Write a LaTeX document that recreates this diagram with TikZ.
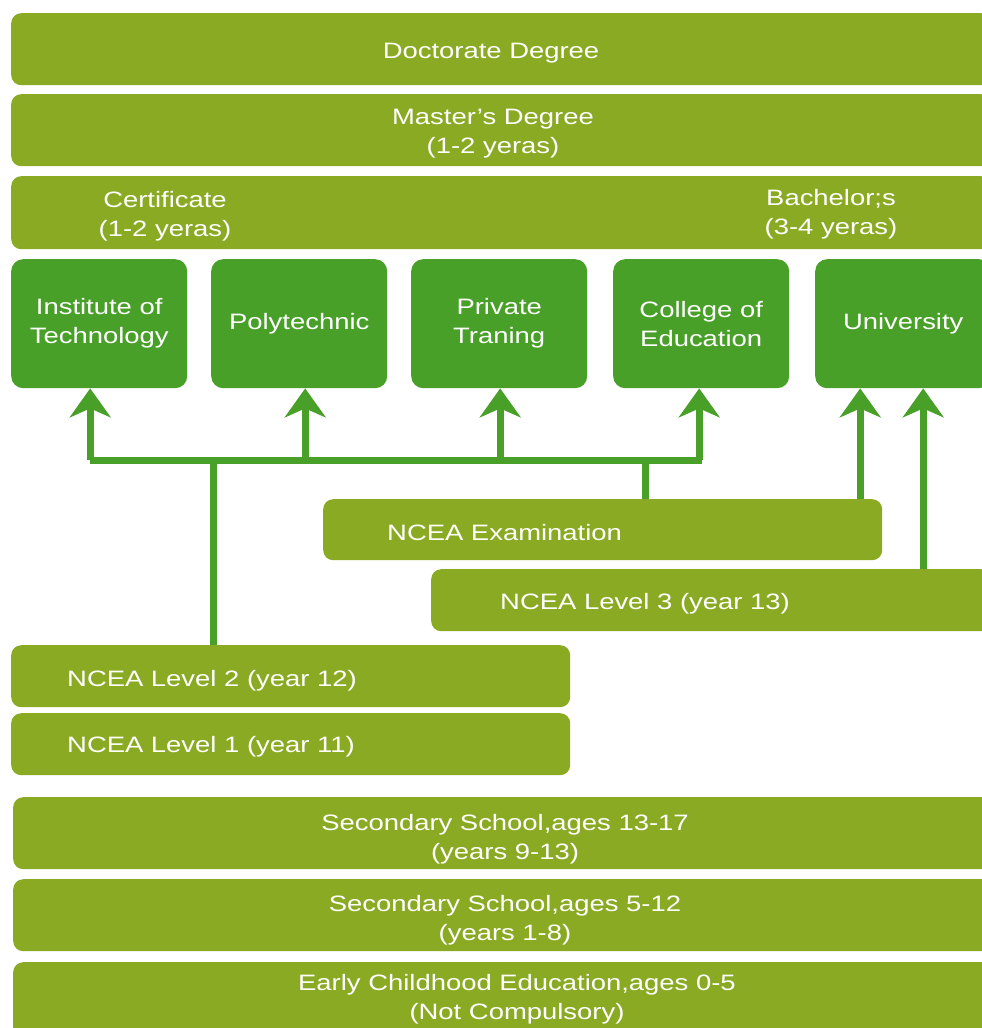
\documentclass[tikz,border=0pt]{standalone}
\usepackage{fontspec}
\setmainfont{Liberation Sans}[FakeStretch=1.23]
\usepackage{tikz}
\usetikzlibrary{arrows.meta}
\definecolor{olivegr}{RGB}{138,170,35}
\definecolor{leafgr}{RGB}{73,160,41}

\begin{document}
\begin{tikzpicture}[x=1pt,y=1pt,
  font=\fontsize{22.3}{29}\selectfont,
  band/.style={fill=olivegr, rounded corners=10pt, inner sep=0pt, anchor=north west},
  inst/.style={fill=leafgr, rounded corners=12pt, inner sep=0pt, anchor=north west,
    minimum width=176pt, minimum height=129pt, text=white, align=center},
  lbl/.style={text=white, align=center, inner sep=0pt, yshift=-3pt},
  pipe/.style={leafgr, line width=7pt},
  arr/.style={leafgr, line width=7pt, -{Stealth[length=29pt,width=41pt,inset=9pt]}}]
\useasboundingbox (0,0) rectangle (982,-1028);
\clip (0,0) rectangle (982,-1028);
\node [band, minimum width=980pt, minimum height=72pt] (doc) at (11,-13) {};
\node [band, minimum width=980pt, minimum height=72pt] (mast) at (11,-94) {};
\node [band, minimum width=980pt, minimum height=73pt] (cert) at (11,-176) {};
\node [lbl] (doctxt) at (491,-50) {Doctorate Degree};
\node [lbl] (masttxt) at (493,-131) {Master's Degree\\(1-2 yeras)};
\node [lbl] (certtxt) at (165,-213) {Certificate\\(1-2 yeras)};
\node [lbl] (bachtxt) at (831,-211) {Bachelor;s\\(3-4 yeras)};
\node [inst] (ito) at (11,-259) {Institute of\\Technology};
\node [inst] (poly) at (211,-259) {Polytechnic};
\node [inst] (priv) at (411,-259) {Private\\Traning};
\node [inst] (coll) at (613,-259) {College of\\Education};
\node [inst] (uni) at (815,-259) {University};
\node [band, minimum width=559pt, minimum height=61pt] (exam) at (323,-499) {};
\node [band, minimum width=560pt, minimum height=62pt] (lvthree) at (431,-569) {};
\node [band, minimum width=559pt, minimum height=62pt] (lvtwo) at (11,-645) {};
\node [band, minimum width=559pt, minimum height=62pt] (lvone) at (11,-713) {};
\node [lbl, anchor=west] (examtxt) at (387,-530) {NCEA Examination};
\node [lbl, anchor=west] (lvthreetxt) at (500,-601) {NCEA Level 3 (year 13)};
\node [lbl, anchor=west] (lvtwotxt) at (67,-678) {NCEA Level 2 (year 12)};
\node [lbl, anchor=west] (lvonetxt) at (67,-744) {NCEA Level 1 (year 11)};
\node [band, minimum width=980pt, minimum height=72pt] (sec) at (13,-797) {};
\node [band, minimum width=980pt, minimum height=72pt] (prim) at (13,-879) {};
\node [band, minimum width=980pt, minimum height=80pt] (early) at (13,-962) {};
\node [lbl] (sectxt) at (505,-836) {Secondary School,ages 13-17\\(years 9-13)};
\node [lbl] (primtxt) at (505,-917) {Secondary School,ages 5-12\\(years 1-8)};
\node [lbl] (earlytxt) at (517,-996) {Early Childhood Education,ages 0-5\\(Not Compulsory)};
\coordinate (jl) at (213,-460);
\coordinate (jr) at (645,-460);
\draw [pipe] (lvtwo.north -| jl) -- (jl);
\draw [pipe] (exam.north -| jr) -- (jr);
\draw [pipe] ([xshift=-9pt]ito.south |- jl) -- ([xshift=1pt]coll.south |- jr);
\draw [arr] ([xshift=-9pt]ito.south |- jl) -- ([xshift=-9pt]ito.south);
\draw [arr] ([xshift=6pt]poly.south |- jl) -- ([xshift=6pt]poly.south);
\draw [arr] ([xshift=1pt]priv.south |- jl) -- ([xshift=1pt]priv.south);
\draw [arr] ([xshift=-2pt]coll.south |- jr) -- ([xshift=-2pt]coll.south);
\draw [arr] ([xshift=-43pt]uni.south |- exam.north) -- ([xshift=-43pt]uni.south);
\draw [arr] ([xshift=20pt]uni.south |- lvthree.north) -- ([xshift=20pt]uni.south);
\end{tikzpicture}
\end{document}
